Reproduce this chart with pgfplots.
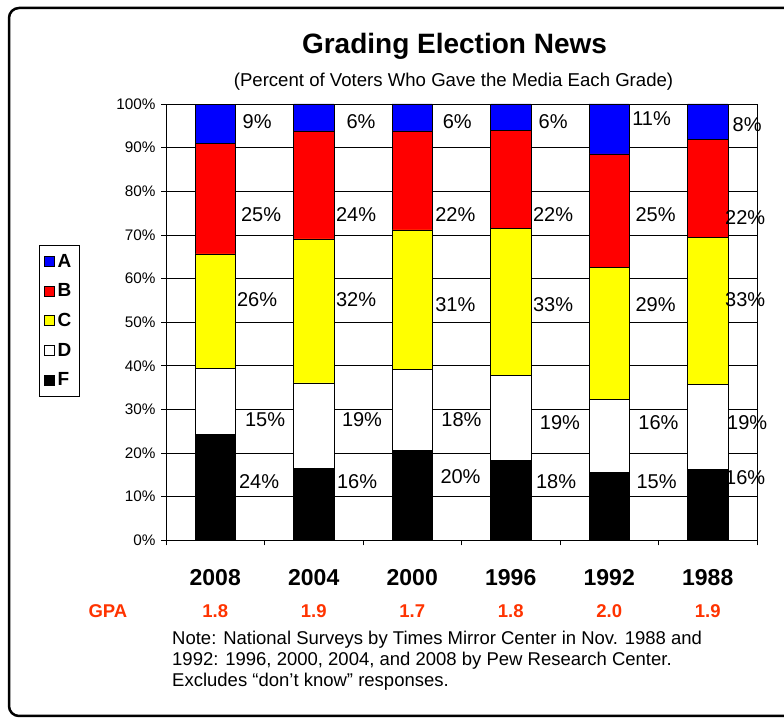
\documentclass[border=0pt]{standalone}
\usepackage{fontspec}
\setmainfont{Liberation Sans}
\usepackage{pgfplots}
\pgfplotsset{compat=1.18}
\usepackage{pgfplotstable}
\definecolor{gpa}{RGB}{255,51,0}
\definecolor{gA}{RGB}{0,0,255}
\definecolor{gB}{RGB}{255,0,0}
\definecolor{gC}{RGB}{255,255,0}

\pgfplotstableread{
x F D C B A
0 24.24 15.15 26.26 25.25 9.09
1 16.49 19.59 32.99 24.74 6.19
2 20.62 18.56 31.96 22.68 6.19
3 18.37 19.39 33.67 22.45 6.12
4 15.63 16.67 30.21 26.04 11.46
5 16.33 19.39 33.67 22.45 8.16
}\grades

\pgfplotstableread{
x y lab
0.425 95.9 9
0.465 74.6 25
0.425 55.1 26
0.506 27.6 15
0.445 13.5 24
1.48 95.9 6
1.43 74.6 24
1.43 55.1 32
1.49 27.6 19
1.44 13.5 16
2.457 95.9 6
2.437 74.6 22
2.437 54.0 31
2.50 27.6 18
2.49 14.6 20
3.43 95.9 6
3.43 74.6 22
3.43 54.0 33
3.50 26.9 19
3.46 13.5 18
4.43 96.6 11
4.47 74.6 25
4.47 54.0 29
4.50 26.9 16
4.48 13.5 15
5.40 95.2 8
5.38 73.9 22
5.38 55.1 33
5.40 26.9 19
5.38 14.4 16
}\labels

\pgfplotstableread{
x y g
0 -17.8 1.8
1 -17.8 1.9
2 -17.8 1.7
3 -17.8 1.8
4 -17.8 2.0
5 -17.8 1.9
}\gpatab

\begin{document}
\begin{tikzpicture}
\useasboundingbox (0,0) rectangle (784pt,719pt);
\draw[line width=2.5pt, rounded corners=10pt] (9pt,3pt) rectangle (800pt,711pt);

\node[anchor=base, font=\fontsize{28}{28}\selectfont\bfseries] at (454.5pt,665.7pt) {Grading Election News};
\node[anchor=base, font=\fontsize{18.6}{18.6}\selectfont] at (453.5pt,632.3pt) {(Percent of Voters Who Gave the Media Each Grade)};

\begin{axis}[
  at={(166pt,178.7pt)}, anchor=south west, scale only axis,
  width=591pt, height=436.3pt,
  xmin=-0.5, xmax=5.5, ymin=0, ymax=100,
  ybar stacked, bar width=40pt,
  xtick={-0.5,0.5,...,5.5}, xticklabels={},
  extra x ticks={0,1,2,3,4,5},
  extra x tick labels={2008,2004,2000,1996,1992,1988},
  extra x tick style={major tick length=0pt, grid=none,
     tick label style={font=\fontsize{23}{23}\selectfont\bfseries, anchor=base, yshift=-45.4pt}},
  ytick={0,10,...,100},
  yticklabel={\pgfmathprintnumber{\tick}\%},
  yticklabel style={font=\fontsize{15.3}{15.3}\selectfont, xshift=-2pt},
  ymajorgrids, grid style={black, line width=0.6pt},
  tick align=outside, major tick length=5pt,
  tick style={black, line width=0.6pt},
  tick pos=left,
  axis line style={black, line width=0.8pt},
  /pgf/number format/assume math mode=true,
  reverse legend,
  legend cell align=left,
  legend image code/.code={\draw[#1, draw=black, line width=0.5pt] (0pt,-5pt) rectangle (10pt,5pt);},
  legend style={at={(axis description cs:-0.215,0.677)}, anchor=north west,
     draw=black, line width=0.6pt, inner xsep=5pt, inner ysep=7pt,
     font=\fontsize{19}{19}\selectfont\bfseries, row sep=11pt,
     nodes={inner xsep=3pt, inner ysep=2pt}},
]
\addplot[fill=black, draw=black, line width=0.5pt] table[x=x,y=F]{\grades};
\addplot[fill=white, draw=black, line width=0.5pt] table[x=x,y=D]{\grades};
\addplot[fill=gC, draw=black, line width=0.5pt] table[x=x,y=C]{\grades};
\addplot[fill=gB, draw=black, line width=0.5pt] table[x=x,y=B]{\grades};
\addplot[fill=gA, draw=black, line width=0.5pt] table[x=x,y=A]{\grades};
\legend{F,D,C,B,A}
\end{axis}

\begin{axis}[
  at={(166pt,178.7pt)}, anchor=south west, scale only axis,
  width=591pt, height=436.3pt,
  xmin=-0.5, xmax=5.5, ymin=0, ymax=100,
  hide axis, clip=false,
]
\addplot[only marks, mark=none, nodes near coords={\pgfplotspointmeta\%},
  point meta=explicit symbolic,
  nodes near coords style={font=\fontsize{20}{20}\selectfont, anchor=center}]
  table[x=x,y=y,meta=lab]{\labels};
\addplot[only marks, mark=none, nodes near coords={\pgfplotspointmeta},
  point meta=explicit symbolic,
  nodes near coords style={font=\fontsize{18.5}{18.5}\selectfont\bfseries, text=gpa, anchor=base, inner sep=0pt}]
  table[x=x,y=y,meta=g]{\gpatab};
\node[anchor=base, inner sep=0pt, text=gpa, font=\fontsize{18.5}{18.5}\selectfont\bfseries] at (axis cs:-1.09,-17.8) {GPA};
\end{axis}

\begin{scope}[every node/.style={anchor=base west, inner sep=0pt, font=\fontsize{18.5}{18.5}\selectfont}]
\node at (172pt,74pt) {Note: National Surveys by Times Mirror Center in Nov. 1988 and};
\node at (172pt,53pt) {1992: 1996, 2000, 2004, and 2008 by Pew Research Center.};
\node at (172pt,32pt) {Excludes “don’t know” responses.};
\end{scope}
\end{tikzpicture}
\end{document}
